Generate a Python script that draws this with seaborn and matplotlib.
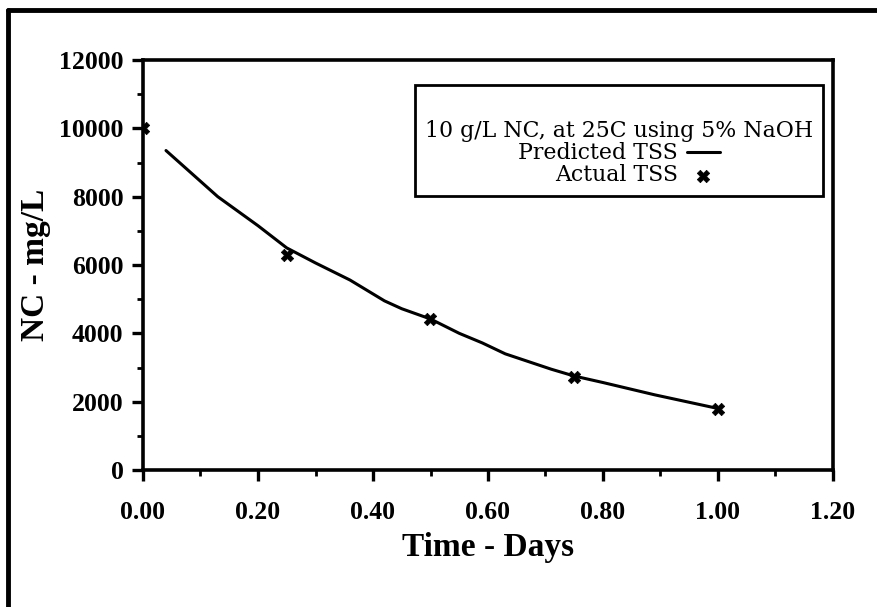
import numpy as np
import pandas as pd
import matplotlib
matplotlib.use("Agg")
import matplotlib.pyplot as plt
from matplotlib.lines import Line2D
from matplotlib.ticker import MultipleLocator, FormatStrFormatter
import seaborn as sns

# values
pred_days = [0.04, 0.08, 0.13, 0.20, 0.25, 0.30, 0.36, 0.42, 0.45, 0.50, 0.55,
             0.59, 0.63, 0.71, 0.75, 0.80, 0.89, 1.00]
pred_tss = [9350, 8750, 8000, 7150, 6500, 6060, 5560, 4950, 4720, 4420, 4000,
            3720, 3400, 2950, 2750, 2560, 2200, 1800]
actual_days = [0.00, 0.25, 0.50, 0.75, 1.00]
actual_tss = [10000, 6280, 4420, 2720, 1780]

legend_title = "10 g/L NC, at 25C using 5% NaOH"
x_ticks = [0.0, 0.2, 0.4, 0.6, 0.8, 1.0, 1.2]
y_ticks = [0, 2000, 4000, 6000, 8000, 10000, 12000]

sns.set_theme(style="ticks")
plt.rcParams["font.family"] = ["Liberation Serif", "DejaVu Serif"]
plt.rcParams.update({"text.color": "black", "axes.labelcolor": "black",
                     "xtick.color": "black", "ytick.color": "black",
                     "legend.labelcolor": "black"})

pred = pd.DataFrame({"days": pred_days, "tss": pred_tss})
actual = pd.DataFrame({"days": actual_days, "tss": actual_tss})

fig = plt.figure(figsize=(8.78, 6.07), dpi=100)
fig.patch.set_facecolor("white")
ax = fig.add_axes([143 / 878, 137 / 607, 690 / 878, 410 / 607])
ax.set_facecolor("white")

sns.lineplot(data=pred, x="days", y="tss", color="black", linewidth=2.2,
             label="Predicted TSS", ax=ax)
sns.scatterplot(data=actual, x="days", y="tss", color="black", marker="X",
                s=80, edgecolor="black", linewidth=0.5, zorder=5,
                label="Actual TSS", ax=ax)

ax.set_xlim(0, 1.2)
ax.set_ylim(0, 12000)
ax.set_xticks(x_ticks)
ax.set_yticks(y_ticks)
ax.xaxis.set_minor_locator(MultipleLocator(0.1))
ax.yaxis.set_minor_locator(MultipleLocator(1000))
ax.xaxis.set_major_formatter(FormatStrFormatter("%.2f"))

for side in ["left", "bottom", "top", "right"]:
    ax.spines[side].set_visible(True)
    ax.spines[side].set_color("black")
    ax.spines[side].set_linewidth(2.6)

ax.tick_params(which="major", direction="out", length=8, width=2.4,
               color="black", labelsize=18.5, labelcolor="black")
ax.tick_params(which="minor", direction="out", length=4, width=2.0, color="black")
ax.tick_params(axis="x", which="major", pad=14)
ax.tick_params(axis="y", which="major", pad=6)
for lab in ax.get_xticklabels() + ax.get_yticklabels():
    lab.set_fontweight("bold")

ax.set_xlabel("Time - Days", fontsize=24, fontweight="bold", labelpad=6, color="black")
ax.set_ylabel("NC - mg/L", fontsize=24, fontweight="bold", labelpad=6, color="black")

leg = ax.legend(title="\n" + legend_title, loc="upper right",
                bbox_to_anchor=(0.9855, 0.939), borderaxespad=0,
                markerfirst=False, frameon=True, fancybox=False, shadow=False,
                prop={"family": "DejaVu Serif", "size": 15.8},
                title_fontproperties={"family": "DejaVu Serif", "size": 15.8},
                labelspacing=0.0, handlelength=1.5, handletextpad=0.4,
                borderpad=0.45)
leg.get_title().set_color("black")
for t in leg.get_texts():
    t.set_color("black")
leg.get_frame().set_edgecolor("black")
leg.get_frame().set_linewidth(2.0)
leg.get_frame().set_facecolor("white")
leg.get_frame().set_alpha(1)

# scanned page frame (left and top edges)
fig.add_artist(Line2D([8 / 878, 8 / 878], [0, 1 - 10 / 607],
                      transform=fig.transFigure, color="black", linewidth=3.5))
fig.add_artist(Line2D([8 / 878, 1], [1 - 10 / 607, 1 - 10 / 607],
                      transform=fig.transFigure, color="black", linewidth=3.5))

fig.savefig("out.png", dpi=100, facecolor="white")
